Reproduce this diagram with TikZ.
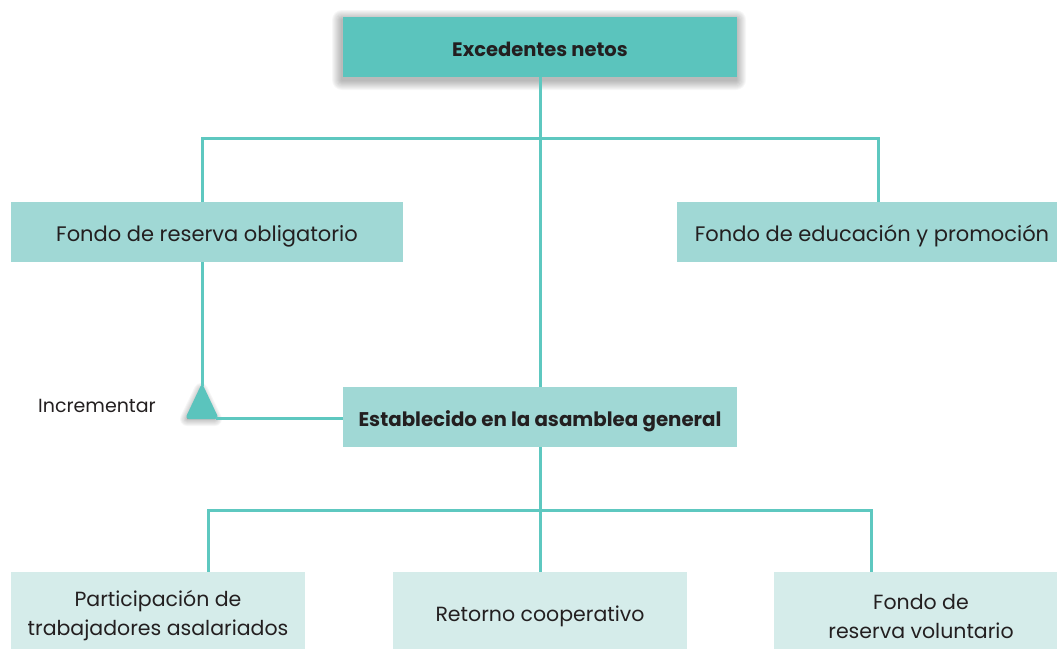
\documentclass[tikz,border=0pt]{standalone}
\usepackage{fontspec}
\setmainfont{Poppins}
\usetikzlibrary{positioning}
\definecolor{topc}{HTML}{5BC4BD}
\definecolor{midc}{HTML}{A0D8D5}
\definecolor{lowc}{HTML}{D5ECEA}
\definecolor{linec}{HTML}{5EC8C0}
\definecolor{txt}{HTML}{231F20}
\tikzset{
  box/.style={rectangle, inner sep=0pt, text=txt, align=center},
  topbox/.style={box, fill=topc, minimum width=394pt, minimum height=60pt, font=\fontsize{19.5}{23}\selectfont\bfseries, text height=19pt, text depth=1pt},
  midbox/.style={box, fill=midc, minimum height=60pt, font=\fontsize{21}{25}\selectfont, text height=21pt, text depth=2.5pt},
  boldmid/.style={midbox, font=\fontsize{19.8}{23}\selectfont\bfseries, text height=20.5pt, text depth=1pt},
  lowbox/.style={box, fill=lowc, minimum width=294pt, minimum height=88pt, font=\fontsize{20.5}{29}\selectfont},
  conn/.style={draw=linec, line width=3pt},
}
\begin{document}
\begin{tikzpicture}[x=1pt,y=-1pt]
\useasboundingbox (0,0) rectangle (1057,648);
\clip (0,0) rectangle (1057,648);
% shadow for top box
\foreach \i in {1,...,10}{
  \fill[black, opacity=0.03, rounded corners=\i pt] (343-\i-1,17-\i+3) rectangle (737+\i-1,77+\i+3);
}
\node[topbox] (top) at (540,47) {Excedentes netos};
\node[midbox, minimum width=392pt] (fro) at (207,232) {Fondo de reserva obligatorio};
\node[midbox, minimum width=390pt] (fep) at (872,232) {Fondo de educación y promoción};
\node[boldmid, minimum width=394pt] (est) at (540,417) {Establecido en la asamblea general};
\node[lowbox] (pta) at (158,616) {Participación de\\trabajadores asalariados};
\node[lowbox] (rc) at (540,616) {Retorno cooperativo};
\node[lowbox] (frv) at (921,616) {Fondo de\\reserva voluntario};
\node[text=txt, font=\fontsize{19}{22}\selectfont, anchor=center] (inc) at (97,406) {Incrementar};
% triangle with shadow
\foreach \i in {1,...,7}{
  \fill[black, opacity=0.035, line join=round, line width=\i*2pt, draw=black, draw opacity=0.035] (201,390) -- (187,419) -- (215,419) -- cycle;
}
\coordinate (tapex) at (202,386);
\coordinate (tright) at (216,418);
\fill[topc, rounded corners=4pt] (202,383) -- (219,419) -- (185,419) -- cycle;
% connectors
\coordinate (jl) at (202,138);
\coordinate (jr) at (878,138);
\coordinate (kl) at (208,510);
\coordinate (kr) at (871,510);
\draw[conn] (top.south) -- (est.north);
\draw[conn] (fro.north -| jl) -- (jl) -- (jr) -- (fep.north -| jr);
\draw[conn] (fro.south -| jl) -- (tapex);
\draw[conn] (tright) -- (est.west |- tright);
\draw[conn] (est.south) -- (rc.north);
\draw[conn] (pta.north -| kl) -- (kl) -- (kr) -- (frv.north -| kr);
\end{tikzpicture}
\end{document}
